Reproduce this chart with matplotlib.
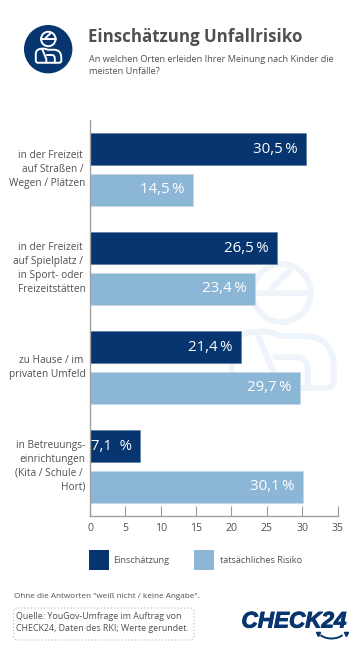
# -*- coding: utf-8 -*-
import numpy as np
import matplotlib
matplotlib.use('Agg')
import matplotlib.pyplot as plt
import matplotlib.patheffects as pe
from matplotlib.patches import Circle, FancyBboxPatch, Arc, PathPatch
from matplotlib.path import Path
from matplotlib.transforms import ScaledTranslation

plt.rcParams['font.family'] = ['Open Sans', 'DejaVu Sans']

categories = ['in der Freizeit \nauf Straßen / \nWegen / Plätzen',
              'in der Freizeit \nauf Spielplatz / \nin Sport- oder \nFreizeitstätten',
              'zu Hause / im \nprivaten Umfeld',
              'in Betreuungs-\neinrichtungen\n(Kita / Schule / \nHort)']
einschaetzung = [30.5, 26.5, 21.4, 7.1]
risiko = [14.5, 23.4, 29.7, 30.1]
einschaetzung_labels = ['30,5\u2009%', '26,5\u2009%', '21,4\u2009%', '7,1  %']
risiko_labels = ['14,5\u2009%', '23,4\u2009%', '29,7\u2009%', '30,1\u2009%']
ticks = [0, 5, 10, 15, 20, 25, 30, 35]

dark = '#06356f'
light = '#8cb6d6'
edge_light = '#c4d8ea'
grey = '#505050'
W, H = 360, 661

fig = plt.figure(figsize=(W/100, H/100), dpi=100)

# overlay in pixel coordinates for header, watermark and footer
bg = fig.add_axes([0, 0, 1, 1], zorder=0)
bg.set_xlim(0, W)
bg.set_ylim(H, 0)
bg.axis('off')


def person(ax, cx, cy, k, col, lw):
    # person with arm sling, offsets are px at the watermark size, k scales them
    def P(verts, codes):
        verts = [(cx + k*x, cy + k*y) for x, y in verts]
        ax.add_patch(PathPatch(Path(verts, codes), fc='none', ec=col, lw=lw, capstyle='round', joinstyle='round'))
    M, L, C = Path.MOVETO, Path.LINETO, Path.CURVE3
    ax.add_patch(Circle((cx, cy), 29*k, fc='none', ec=col, lw=lw))
    P([(-29, 0), (29, 0)], [M, L])
    P([(-10, -5), (8, -22)], [M, L])
    P([(-25, 39), (-12, 37), (-2, 43), (12, 43), (22, 43), (52, 43), (52, 75), (52, 87), (52, 95), (44, 95),
       (-42, 95), (-50, 95), (-50, 85), (-50, 60), (-50, 39), (-25, 39)],
      [M, C, C, L, L, C, C, L, C, C, L, C, C, L, C, C])
    P([(-25, 39), (-8, 80), (-8, 95)], [M, L, L])
    P([(-6, 64), (14, 64), (26, 64), (26, 78), (26, 95)], [M, L, C, C, L])


# header icon
bg.add_patch(Circle((48.2, 49.2), 24.2, fc=dark, ec='none'))
person(bg, 48.3, 39, 0.25, 'white', 1.4)

# watermark behind the bars
person(bg, 281.7, 293, 1, '#eef4fa', 4.3)

fig.text(88/W, 1 - 37.5/H, 'Einschätzung Unfallrisiko', fontsize=12.2, fontweight='bold',
         color=grey, va='center', ha='left')
fig.text(89/W, 1 - 59/H, 'An welchen Orten erleiden Ihrer Meinung nach Kinder die', fontsize=6.55,
         color=grey, va='center', ha='left')
fig.text(89/W, 1 - 71.5/H, 'meisten Unfälle?', fontsize=6.55, color=grey, va='center', ha='left')

# chart
ax = fig.add_axes([90/W, 1 - 516/H, 247.5/W, 396/H], zorder=1)
ax.patch.set_alpha(0)
pos = np.arange(len(categories))
h = 0.32
bars1 = ax.barh(pos - 0.205, einschaetzung, h, color=dark, edgecolor='#5f7fa6', linewidth=0.5)
bars2 = ax.barh(pos + 0.205, risiko, h, color=light, edgecolor=edge_light, linewidth=0.5)
ax.set_xlim(0, 35)
ax.set_ylim(len(categories) - 0.5, -0.5)
ax.set_xticks(ticks)
ax.set_xticklabels([str(t) for t in ticks], fontsize=7.6, color=grey)
ax.tick_params(axis='x', length=7.2, width=0.8, color='#9a9a9a', direction='in', pad=5)
ax.set_yticks(pos)
ax.set_yticklabels(categories, fontsize=7.3, color=grey, ha='right', linespacing=1.35)
ax.tick_params(axis='y', length=0, pad=3)
# labels sit a little above the group centre
for lab in ax.get_yticklabels():
    lab.set_transform(lab.get_transform() + ScaledTranslation(0, 3/100, fig.dpi_scale_trans))
for s in ['top', 'right']:
    ax.spines[s].set_visible(False)
for s in ['left', 'bottom']:
    ax.spines[s].set_color('#a0a0a0')
    ax.spines[s].set_linewidth(1.0)

for b, lab in zip(bars1, einschaetzung_labels):
    ax.text(b.get_width() - 1.2, b.get_y() + b.get_height()/2, lab, color='white', fontsize=10.8,
            ha='right', va='center')
for b, lab in zip(bars2, risiko_labels):
    ax.text(b.get_width() - 1.2, b.get_y() + b.get_height()/2, lab, color='white', fontsize=10.8,
            ha='right', va='center')

# legend, drawn by hand in pixel coordinates
fg = fig.add_axes([0, 0, 1, 1], zorder=2)
fg.set_xlim(0, W)
fg.set_ylim(H, 0)
fg.axis('off')
fg.fill_between([89, 109], 549.5, 569.5, color=dark, lw=0)
fg.fill_between([194, 214], 549.5, 569.5, color=light, lw=0)
fg.text(113.5, 560.5, 'Einschätzung', fontsize=6.6, color=grey, va='center')
fg.text(220, 560.5, 'tatsächliches Risiko', fontsize=6.6, color=grey, va='center')

# footer
fg.text(13.5, 596.7, 'Ohne die Antworten "weiß nicht / keine Angabe".', fontsize=5.9, color=grey, va='center')
fg.add_patch(FancyBboxPatch((13.5, 608), 180.5, 32, boxstyle='round,pad=0,rounding_size=4',
                            fc='none', ec='#b5b5b5', lw=0.8, ls=(0, (1, 2))))
fg.text(16, 616.7, 'Quelle: YouGov-Umfrage im Auftrag von', fontsize=6.4, color=grey, va='center')
fg.text(16, 628.7, 'CHECK24, Daten des RKI; Werte gerundet.', fontsize=6.4, color=grey, va='center')

# logo
fg.text(241.5, 622, 'CHECK24', fontsize=16.2, fontweight='bold', style='italic', color=dark, va='center',
        family='Liberation Sans', path_effects=[pe.withStroke(linewidth=0.7, foreground=dark)])
fg.add_patch(Arc((331.5, 631), 26, 15, theta1=20, theta2=160, color=dark, lw=1.4))
fg.plot([317.5, 345.5], [634, 634], ls='none', marker='v', ms=3, color=dark)

fig.savefig('out.png', dpi=100)
